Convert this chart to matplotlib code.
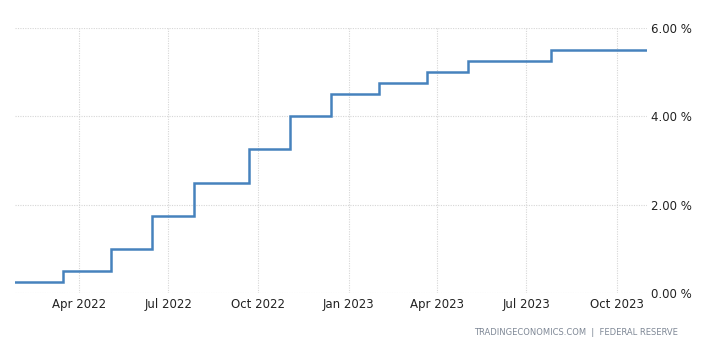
import pandas as pd
import matplotlib
matplotlib.use('Agg')
import matplotlib.pyplot as plt
import matplotlib.dates as mdates

# Fed funds target (upper bound), FOMC decision dates
dates = ['2022-01-26', '2022-03-16', '2022-05-04', '2022-06-15', '2022-07-27',
         '2022-09-21', '2022-11-02', '2022-12-14', '2023-02-01', '2023-03-22',
         '2023-05-03', '2023-07-26', '2023-11-01']
rates = [0.25, 0.50, 1.00, 1.75, 2.50, 3.25, 4.00, 4.50, 4.75, 5.00, 5.25, 5.50, 5.50]
yticks = [0, 2, 4, 6]
source = 'TRADINGECONOMICS.COM  |  FEDERAL RESERVE'

df = pd.DataFrame({'date': pd.to_datetime(dates), 'rate': rates})

fig = plt.figure(figsize=(7.17, 3.55), dpi=100)
ax = fig.add_axes([0.0209, 0.1755, 0.8815, 0.7448])

ax.plot(df['date'], df['rate'], drawstyle='steps-post',
        color='#4682bd', linewidth=1.8, solid_joinstyle='miter')

ax.set_xlim(df['date'].iloc[0], df['date'].iloc[-1])
ax.set_ylim(0, 6)

ax.xaxis.set_major_locator(mdates.MonthLocator(bymonth=[1, 4, 7, 10]))
ax.xaxis.set_major_formatter(mdates.DateFormatter('%b %Y'))
ax.yaxis.tick_right()
ax.set_yticks(yticks)
ax.set_yticklabels([f'{v:.2f} %' for v in yticks])

# light dotted grid, one pixel on / one off
ax.grid(True, linestyle=(0, (1, 1.2)), color='#d6d6d6', linewidth=0.8)
ax.set_axisbelow(True)
for s in ax.spines.values():
    s.set_visible(False)
ax.tick_params(length=0, labelsize=8.5, colors='#222222', pad=4)
ax.tick_params(axis='y', pad=3)

fig.text(0.946, 0.062, source, ha='right', va='center',
         fontsize=6.0, color='#7f8896')

fig.savefig('out.png', dpi=100, facecolor='white')
